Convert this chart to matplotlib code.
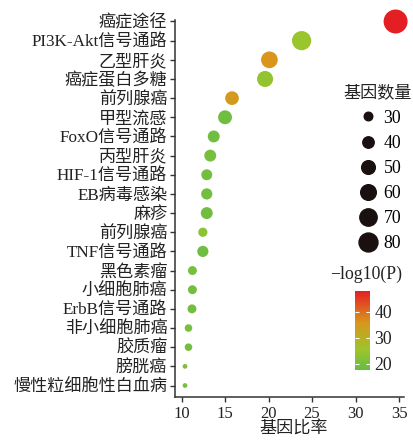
import numpy as np
import matplotlib
matplotlib.use("Agg")
import matplotlib.pyplot as plt
from matplotlib.colors import LinearSegmentedColormap, Normalize
from matplotlib.lines import Line2D

plt.rcParams['font.family'] = ['Liberation Serif', 'Noto Sans CJK SC']
plt.rcParams['axes.unicode_minus'] = True

# KEGG enrichment results
pathways = ["癌症途径", "PI3K-Akt信号通路", "乙型肝炎", "癌症蛋白多糖", "前列腺癌",
            "甲型流感", "FoxO信号通路", "丙型肝炎", "HIF-1信号通路", "EB病毒感染",
            "麻疹", "前列腺癌", "TNF信号通路", "黑色素瘤", "小细胞肺癌",
            "ErbB信号通路", "非小细胞肺癌", "胶质瘤", "膀胱癌", "慢性粒细胞性白血病"]
gene_ratio = [34.6, 23.8, 20.1, 19.6, 15.8, 15.0, 13.7, 13.3, 12.9, 12.9,
              12.9, 12.45, 12.45, 11.25, 11.25, 11.2, 10.8, 10.8, 10.4, 10.4]
gene_count = [118, 82, 66, 62, 50, 51, 42, 42, 38, 39,
              42, 32, 39, 31, 31, 31, 27, 27, 21, 21]
neg_log_p = [48, 25, 36, 24, 35, 19, 19, 20, 19.5, 19.5,
             19, 23, 19, 20, 19.5, 19.5, 20, 19.5, 21, 20.5]

size_breaks = [30, 40, 50, 60, 70, 80]
color_ticks = [20, 30, 40]


def point_size(n):
    return (np.asarray(n, dtype=float) - 17) * 2.95


cmap = LinearSegmentedColormap.from_list(
    "gr", [(0.0, "#66bc45"), (0.25, "#9cc52c"), (0.6, "#d9961c"), (1.0, "#e41f24")])
norm = Normalize(vmin=17.6, vmax=48)

fig = plt.figure(figsize=(4.13, 4.41), dpi=100)
ax = fig.add_axes([175 / 413, 44 / 441, 238 / 413, 387 / 441])

y = np.arange(len(pathways))
sc = ax.scatter(gene_ratio, y, s=point_size(gene_count), c=neg_log_p,
                cmap=cmap, norm=norm, linewidths=0, zorder=3, clip_on=False)

ax.set_ylim(len(pathways) - 0.4, -0.6)
ax.set_xlim(9.25, 36.6)
ax.set_yticks(y)
ax.set_yticklabels(pathways, fontsize=12.3, color="#222222")
ax.set_xticks([10, 15, 20, 25, 30, 35])
ax.tick_params(axis="both", length=3.5, width=1, color="#333333", pad=2)
ax.tick_params(axis="x", labelsize=12, labelcolor="#222222", pad=3)
ax.set_xlabel("基因比率", fontsize=12.3, color="#222222", labelpad=0)

for side in ["top", "right"]:
    ax.spines[side].set_visible(False)
for side in ["left", "bottom"]:
    ax.spines[side].set_linewidth(1.1)
    ax.spines[side].set_color("#333333")
ax.spines["left"].set_bounds(-0.08, len(pathways) - 0.4)
ax.spines["bottom"].set_bounds(9.25, 35.6)

# size legend
fig.text(343 / 413, 1 - 93 / 441, "基因数量", fontsize=12.3,
         color="#222222", va="center", ha="left")
handles = [Line2D([], [], marker="o", linestyle="none", color="#1a1010",
                  markersize=np.sqrt(point_size(v))) for v in size_breaks]
leg = fig.legend(handles, [str(v) for v in size_breaks],
                 loc="center left", bbox_to_anchor=(348 / 413, 1 - 181 / 441),
                 frameon=False, fontsize=12.8,
                 labelspacing=0.46, handletextpad=0.2, borderpad=0,
                 handlelength=1.3)

# colour bar
fig.text(330 / 413, 1 - 274 / 441, "\u2212log10(P)", fontsize=12.8,
         color="#222222", va="center", ha="left")
cax = fig.add_axes([355 / 413, 71 / 441, 15 / 413, 79 / 441])
cb = fig.colorbar(sc, cax=cax, ticks=color_ticks)
cb.outline.set_visible(False)
cax.tick_params(left=True, right=True, direction="in", color="white",
                length=3, width=0.8, labelsize=12.8, labelcolor="#222222", pad=3)

fig.savefig("out.png", dpi=100)
